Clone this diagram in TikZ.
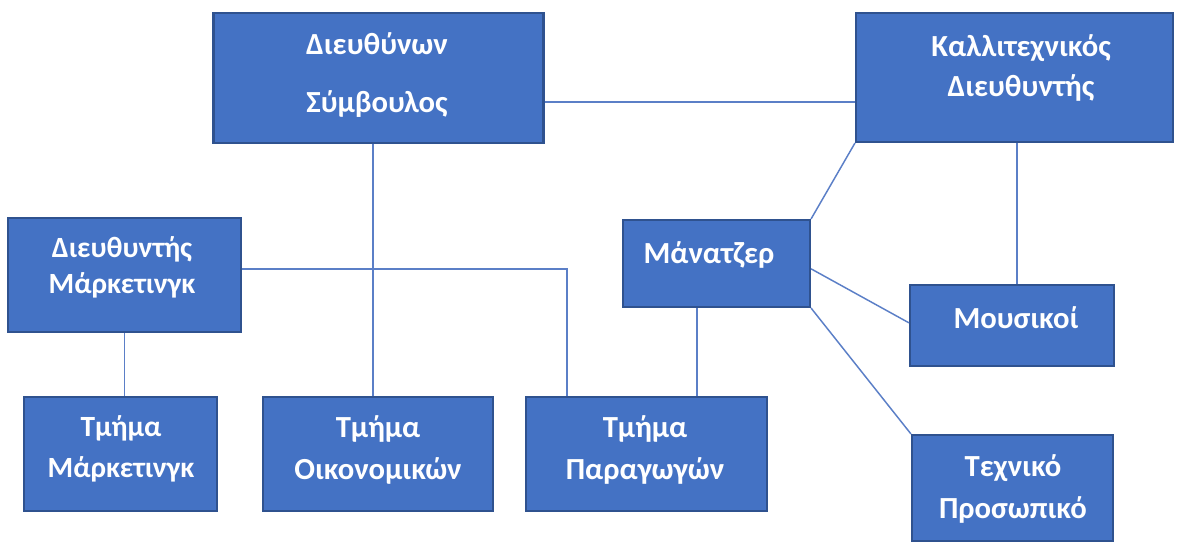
\documentclass[tikz,border=0pt]{standalone}
\usepackage{fontspec}
\setmainfont{Carlito}
\definecolor{boxfill}{HTML}{4472C4}
\definecolor{boxline}{HTML}{2F528F}
\definecolor{conn}{HTML}{5B7FC7}
\begin{document}
\begin{tikzpicture}[x=0.75pt,y=-0.75pt,
  orgbox/.style={draw=boxline,line width=1.6pt,fill=boxfill,inner sep=0pt},
  lbl/.style={text=white,font=\bfseries\fontsize{23}{30}\selectfont,align=center,inner sep=0pt},
  link/.style={draw=conn,line width=1.1pt}]
\useasboundingbox[fill=white] (0,0) rectangle (1177,542);
% boxes
\node[orgbox,minimum width=247.5pt,minimum height=97.5pt] (ceo) at (378.5,78) {};
\node[orgbox,minimum width=237.75pt,minimum height=96.75pt] (art) at (1014.5,77.5) {};
\node[orgbox,minimum width=174.75pt,minimum height=85.5pt] (mdir) at (124.5,275) {};
\node[orgbox,minimum width=140.25pt,minimum height=65.25pt] (mgr) at (716.5,263.5) {};
\node[orgbox,minimum width=153pt,minimum height=60.75pt] (mus) at (1012,325.5) {};
\node[orgbox,minimum width=144.75pt,minimum height=85.5pt] (tm) at (120.5,454) {};
\node[orgbox,minimum width=172.5pt,minimum height=85.5pt] (oik) at (378,454) {};
\node[orgbox,minimum width=180.75pt,minimum height=85.5pt] (par) at (646.5,454) {};
\node[orgbox,minimum width=150.75pt,minimum height=79.5pt] (tex) at (1012.5,488) {};
% texts
\node[lbl,font=\bfseries\fontsize{23}{44}\selectfont] (tceo) at (377,75) {Διευθύνων\\Σύμβουλος};
\node[lbl] (tart) at (1021,68) {Καλλιτεχνικός\\Διευθυντής};
\node[lbl,font=\bfseries\fontsize{22}{27}\selectfont] (tmdir) at (122,267) {Διευθυντής\\Μάρκετινγκ};
\node[lbl] (tmgr) at (709,255) {Μάνατζερ};
\node[lbl] (tmus) at (1016,318) {Μουσικοί};
\node[lbl,font=\bfseries\fontsize{22}{31}\selectfont] (ttm) at (121,449) {Τμήμα\\Μάρκετινγκ};
\node[lbl,font=\bfseries\fontsize{23}{31}\selectfont] (toik) at (378,450) {Τμήμα\\Οικονομικών};
\node[lbl,font=\bfseries\fontsize{23}{31}\selectfont] (tpar) at (645,450) {Τμήμα\\Παραγωγών};
\node[lbl,font=\bfseries\fontsize{23}{31}\selectfont] (ttex) at (1013,489) {Τεχνικό\\Προσωπικό};
% connectors
\draw[link] ([yshift=-18pt]ceo.east) -- ([yshift=-18pt]ceo.east -| art.west);
\draw[link] ([xshift=-4pt]ceo.south) -- ([xshift=-4pt]ceo.south |- oik.north);
\draw[link] ([yshift=4.5pt]mdir.east) -| ([xshift=31.5pt]par.north west);
\draw[link] (mdir.south) -- (mdir.south |- tm.north);
\draw[link] ([xshift=-14.6pt]mgr.south) -- ([xshift=-14.6pt]mgr.south |- par.north);
\draw[link] ([xshift=2pt]art.south) -- ([xshift=2pt]art.south |- mus.north);
\draw[link] (art.south west) -- (mgr.north east);
\draw[link] ([yshift=-4pt]mgr.east) -- ([yshift=2pt]mus.west);
\draw[link] (mgr.south east) -- (tex.north west);
\end{tikzpicture}
\end{document}
